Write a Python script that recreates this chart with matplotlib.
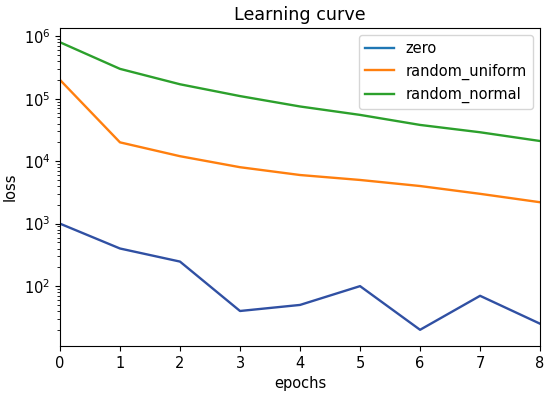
import matplotlib
matplotlib.use("Agg")
import matplotlib.pyplot as plt
from matplotlib.lines import Line2D

epochs = [0, 1, 2, 3, 4, 5, 6, 7, 8]
zero = [1000, 400, 247, 40, 50, 100, 20, 70, 25]
random_uniform = [2e5, 2e4, 1.2e4, 8e3, 6e3, 5e3, 4e3, 3e3, 2.2e3]
random_normal = [8e5, 3e5, 1.7e5, 1.1e5, 7.5e4, 5.5e4, 3.8e4, 2.9e4, 2.1e4]
labels = ["zero", "random_uniform", "random_normal"]

plt.rcParams["font.size"] = 10.5
fig = plt.figure(figsize=(5.5, 3.95), dpi=100)
ax = fig.add_axes([0.109, 0.124, 0.873, 0.805])
ax.plot(epochs, zero, color="#3050a3", lw=1.7)
ax.plot(epochs, random_uniform, color="#ff7f0e", lw=1.7)
ax.plot(epochs, random_normal, color="#2ca02c", lw=1.7)
ax.set_yscale("log")
ax.set_xlim(0, 8)
ax.set_ylim(11, 1.35e6)
ax.set_xlabel("epochs")
ax.set_ylabel("loss")
ax.set_title("Learning curve", fontsize=12.6)
handles = [Line2D([], [], color=c, lw=1.7) for c in ["#1f77b4", "#ff7f0e", "#2ca02c"]]
ax.legend(handles, labels, loc="upper right")
fig.savefig("out.png", dpi=100)
